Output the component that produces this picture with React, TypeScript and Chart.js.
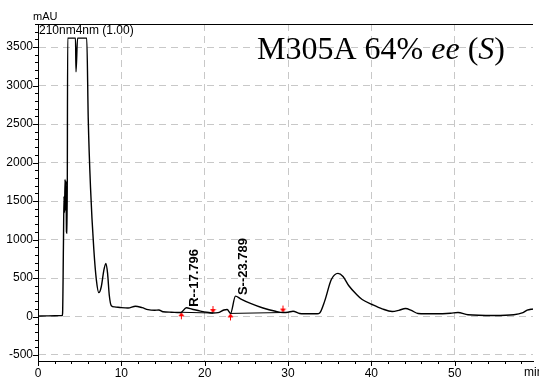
import { useEffect, useRef } from 'react';
import { Chart, registerables } from 'chart.js';

Chart.register(...registerables);

// Chromatogram trace: retention time (min) and absorbance (mAU)
const traceTimes = [
  0, 1, 2, 2.9, 2.95, 3.05, 3.12, 3.18, 3.25, 3.3, 3.36, 3.42, 3.5, 3.56,
  4.5, 4.56, 4.75, 5.85, 6.03, 6.3, 6.7, 7.0, 7.3, 7.6, 7.9, 8.15, 8.35, 8.55,
  8.8, 9.2, 10, 10.8, 11.7, 12.5, 13.2, 14.0, 14.5, 15, 16, 17.0, 17.2, 17.8,
  18.5, 19.5, 20.5, 21.0, 21.6, 22.3, 22.7, 23.1, 23.7, 24.3, 25.5, 27, 28.5,
  29.4, 30, 30.6, 31.4, 32, 33.5, 33.8, 34.4, 35.2, 36.0, 36.6, 37.3, 38.2,
  38.9, 40.1, 41.3, 42.5, 43.3, 44.1, 44.8, 45.6, 47.6, 49.5, 50.4, 51.6, 54.7,
  57.1, 58.2, 58.7, 59.4,
];
const traceValues = [
  5, 8, 10, 12, 40, 900, 1560, 1350, 1780, 1380, 1760, 1100, 1080, 3617,
  3617, 3180, 3617, 3617, 2565, 1680, 870, 480, 310, 390, 600, 690, 560, 280,
  140, 125, 115, 110, 134, 115, 90, 82, 85, 62, 56, 52, 55, 113,
  95, 70, 52, 45, 50, 85, 91, 40, 265, 230, 170, 110, 68,
  52, 55, 69, 39, 35, 35, 45, 200, 480, 560, 520, 400, 290,
  221, 156, 100, 65, 80, 104, 80, 39, 35, 42, 52, 22, 13,
  22, 50, 82, 98,
];

// Integration baselines and peak markers
const baselineRTimes = [17.2, 21.0];
const baselineRValues = [55, 45];
const baselineSTimes = [23.1, 29.4];
const baselineSValues = [40, 52];
const startMarkTimes = [17.2, 23.1];
const startMarkValues = [55, 40];
const endMarkTimes = [21.0, 29.4];
const endMarkValues = [45, 52];

// Peak annotations
const peakNames = ['R--17.796', 'S--23.789'];
const peakTimes = [17.8, 23.7];
const peakValues = [113, 265];

// Axis labels
const xTickLabels = [0, 10, 20, 30, 40, 50];
const yTickLabels = [-500, 0, 500, 1000, 1500, 2000, 2500, 3000, 3500];

const SANS = '"Liberation Sans", Arial, sans-serif';
const SERIF = '"Liberation Serif", "Times New Roman", serif';

function makeArrow(up: boolean): HTMLCanvasElement {
  const c = document.createElement('canvas');
  c.width = 7;
  c.height = 16;
  const g = c.getContext('2d')!;
  g.strokeStyle = '#ff0000';
  g.fillStyle = '#ff0000';
  g.lineWidth = 1;
  if (up) {
    g.beginPath();
    g.moveTo(3.5, 9);
    g.lineTo(3.5, 15);
    g.stroke();
    g.beginPath();
    g.moveTo(3.5, 8);
    g.lineTo(0.5, 12);
    g.lineTo(6.5, 12);
    g.closePath();
    g.fill();
  } else {
    g.beginPath();
    g.moveTo(3.5, 1);
    g.lineTo(3.5, 7);
    g.stroke();
    g.beginPath();
    g.moveTo(3.5, 8);
    g.lineTo(0.5, 4);
    g.lineTo(6.5, 4);
    g.closePath();
    g.fill();
  }
  return c;
}

const decorPlugin = {
  id: 'decor',
  afterDraw(chart: any) {
    const { ctx, chartArea, scales } = chart;
    const xs = scales.x;
    const ys = scales.y;
    ctx.save();
    ctx.strokeStyle = '#000';
    ctx.lineWidth = 1;
    // top border
    ctx.beginPath();
    ctx.moveTo(chartArea.left - 1, Math.round(chartArea.top) + 0.5);
    ctx.lineTo(chartArea.right, Math.round(chartArea.top) + 0.5);
    ctx.stroke();
    // x ticks
    ctx.beginPath();
    for (let v = 0; v <= 58; v += 2) {
      const px = Math.round(xs.getPixelForValue(v)) + 0.5;
      const len = v % 10 === 0 ? 5 : 3;
      ctx.moveTo(px, chartArea.bottom);
      ctx.lineTo(px, chartArea.bottom + len);
    }
    // y ticks
    for (let v = -500; v <= 3800; v += 100) {
      const py = Math.round(ys.getPixelForValue(v)) + 0.5;
      const len = v % 500 === 0 ? 5 : 3;
      ctx.moveTo(chartArea.left, py);
      ctx.lineTo(chartArea.left - len, py);
    }
    ctx.stroke();

    ctx.fillStyle = '#000';
    ctx.font = `11px ${SANS}`;
    ctx.textAlign = 'left';
    ctx.textBaseline = 'alphabetic';
    ctx.fillText('mAU', chartArea.left - 5, chartArea.top - 4);
    ctx.font = `12px ${SANS}`;
    ctx.fillText('210nm4nm (1.00)', chartArea.left + 1, chartArea.top + 10);
    ctx.textBaseline = 'top';
    ctx.fillText('min', 524, chartArea.bottom + 6);

    // peak labels
    ctx.font = `bold 13px ${SANS}`;
    ctx.textBaseline = 'middle';
    for (let i = 0; i < peakNames.length; i++) {
      const px = xs.getPixelForValue(peakTimes[i]) + 8;
      const py = ys.getPixelForValue(peakValues[i]) - 1;
      ctx.save();
      ctx.translate(px, py);
      ctx.rotate(-Math.PI / 2);
      ctx.fillText(peakNames[i], 0, 0);
      ctx.restore();
    }

    // title with italics
    const parts: [string, boolean][] = [
      ['M305A 64% ', false],
      ['ee', true],
      [' (', false],
      ['S', true],
      [')', false],
    ];
    let tx = 257;
    const ty = 59;
    ctx.textBaseline = 'alphabetic';
    for (const [s, it] of parts) {
      ctx.font = `${it ? 'italic ' : ''}32px ${SERIF}`;
      ctx.fillText(s, tx, ty);
      tx += ctx.measureText(s).width;
    }
    ctx.restore();
  },
};

export default function App() {
  const ref = useRef<HTMLCanvasElement>(null);
  useEffect(() => {
    document.body.style.margin = '0';
    const up = makeArrow(true);
    const down = makeArrow(false);
    const toXY = (t: number[], v: number[]) => t.map((x, i) => ({ x, y: v[i] }));
    const chart = new Chart(ref.current!, {
      type: 'line',
      data: {
        datasets: [
          {
            data: toXY(traceTimes, traceValues),
            borderColor: '#000',
            borderWidth: 1.4,
            pointRadius: 0,
            cubicInterpolationMode: 'monotone',
            fill: false,
          },
          {
            data: toXY(baselineRTimes, baselineRValues),
            borderColor: '#000',
            borderWidth: 1,
            pointRadius: 0,
            fill: false,
          },
          {
            data: toXY(baselineSTimes, baselineSValues),
            borderColor: '#000',
            borderWidth: 1,
            pointRadius: 0,
            fill: false,
          },
          {
            data: toXY(startMarkTimes, startMarkValues),
            showLine: false,
            pointStyle: up as any,
            pointRadius: 5,
          },
          {
            data: toXY(endMarkTimes, endMarkValues),
            showLine: false,
            pointStyle: down as any,
            pointRadius: 5,
          },
        ],
      },
      options: {
        responsive: false,
        animation: false,
        events: [],
        layout: { padding: { top: 24, left: 0, right: 0, bottom: 0 } },
        plugins: { legend: { display: false }, tooltip: { enabled: false } },
        scales: {
          x: {
            type: 'linear',
            min: 0,
            max: 59.4,
            afterFit: (s: any) => {
              s.height = 20;
            },
            ticks: {
              stepSize: 2,
              includeBounds: false,
              autoSkip: false,
              maxRotation: 0,
              padding: 5,
              color: '#000',
              font: { family: SANS, size: 12 },
              callback: (v: any) => (xTickLabels.includes(Number(v)) ? String(v) : ''),
            },
            grid: {
              drawTicks: false,
              lineWidth: 1,
              color: (c: any) =>
                c.tick && c.tick.value % 10 === 0 && c.tick.value !== 0 ? '#c8c8c8' : 'rgba(0,0,0,0)',
            },
            border: { display: true, color: '#000', width: 1, dash: [7, 5] },
          },
          y: {
            type: 'linear',
            min: -578,
            max: 3800,
            afterFit: (s: any) => {
              s.width = 38;
            },
            ticks: {
              stepSize: 100,
              includeBounds: false,
              autoSkip: false,
              padding: 5,
              color: '#000',
              font: { family: SANS, size: 12 },
              callback: (v: any) => (yTickLabels.includes(Number(v)) ? String(v) : ''),
            },
            grid: {
              drawTicks: false,
              lineWidth: 1,
              color: (c: any) =>
                c.tick && yTickLabels.includes(c.tick.value) ? '#c8c8c8' : 'rgba(0,0,0,0)',
            },
            border: { display: true, color: '#000', width: 1, dash: [7, 5] },
          },
        },
      },
      plugins: [decorPlugin],
    } as any);
    return () => chart.destroy();
  }, []);
  return (
    <div style={{ width: 539, height: 381 }}>
      <canvas ref={ref} width={539} height={381} style={{ display: 'block' }} />
    </div>
  );
}
